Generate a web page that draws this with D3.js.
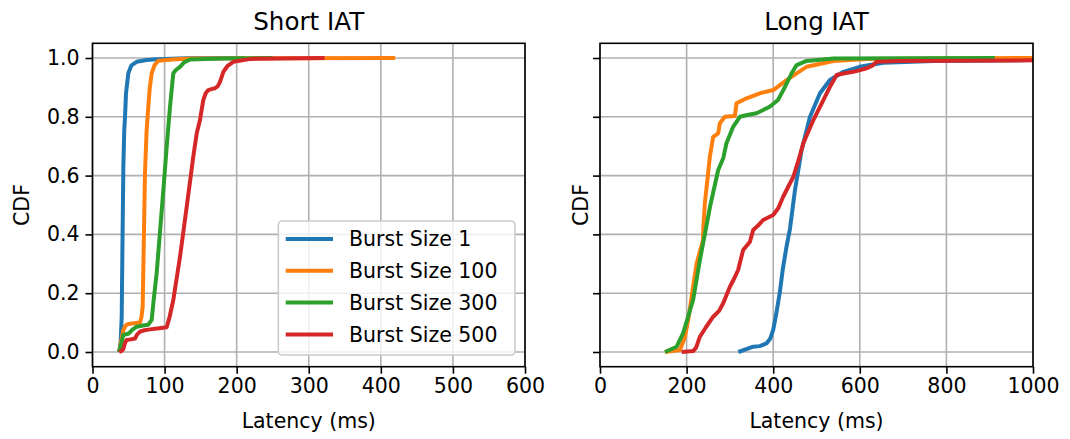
<!DOCTYPE html>
<html>
<head>
<meta charset="utf-8">
<script src="https://cdn.jsdelivr.net/npm/d3@7"></script>
<style>
  html, body { margin: 0; padding: 0; background: #fff; }
  svg { display: block; font-family: "DejaVu Sans", sans-serif; }
</style>
</head>
<body>
<svg id="chart" width="1070" height="439"></svg>
<script>
// ---------------- DATA ----------------
const seriesNames = ["Burst Size 1", "Burst Size 100", "Burst Size 300", "Burst Size 500"];
const seriesColors = ["#1f77b4", "#ff7f0e", "#2ca02c", "#d62728"];
const panelTitles = ["Short IAT", "Long IAT"];
const shortTicks = [0, 100, 200, 300, 400, 500, 600];
const longTicks = [0, 200, 400, 600, 800, 1000];
const cdfTicks = [0.0, 0.2, 0.4, 0.6, 0.8, 1.0];

// Short IAT: [latency ms, CDF]
const shortBurst1 = [[37,0],[39,0.03],[40.5,0.12],[41.5,0.35],[42.8,0.63],[44,0.75],[45.1,0.80],[46.5,0.88],[49.7,0.948],[54,0.975],[61.3,0.987],[75,0.993],[89,0.996],[130,0.999],[211,1.0]];
const shortBurst100 = [[37,0],[40,0.04],[42.8,0.075],[46,0.09],[49.7,0.095],[58,0.098],[65.9,0.10],[68,0.12],[69.6,0.154],[71,0.35],[72.8,0.608],[75,0.75],[77.4,0.834],[79.5,0.9],[82.1,0.948],[86,0.975],[91.3,0.991],[110,0.995],[137,0.998],[250,0.999],[420,1.0]];
const shortBurst300 = [[37,0],[40,0.03],[42.8,0.058],[50.5,0.063],[55,0.075],[61.3,0.086],[70,0.09],[77.4,0.093],[82.1,0.109],[85,0.18],[89,0.268],[98.3,0.551],[103,0.7],[107.5,0.834],[112.1,0.948],[116,0.96],[121.4,0.97],[127,0.985],[135.3,0.995],[180,0.998],[250,1.0]];
const shortBurst500 = [[37,0],[40,0.003],[42.8,0.01],[45,0.03],[47.4,0.041],[53,0.043],[59,0.046],[62,0.06],[65.9,0.069],[72,0.074],[79.8,0.077],[90,0.08],[102.9,0.084],[107,0.12],[112.1,0.177],[121.4,0.324],[130.7,0.494],[139.8,0.664],[144.6,0.744],[149.1,0.789],[153.7,0.857],[157,0.88],[160.7,0.891],[166,0.895],[170,0.897],[174,0.905],[176.9,0.919],[181.5,0.953],[187,0.972],[195.3,0.987],[220,0.997],[322,1.0]];

// Long IAT: [latency ms, CDF]
const longBurst1 = [[319.5,0],[354,0.018],[369,0.02],[384.4,0.029],[393,0.045],[400,0.075],[407,0.13],[415,0.2],[422,0.28],[430.7,0.358],[438.8,0.42],[450.3,0.551],[465.7,0.687],[485,0.80],[508,0.88],[531,0.925],[562,0.953],[600,0.97],[654,0.984],[770,0.99],[1000,0.993]];
const longBurst100 = [[150,0],[184.6,0.007],[196,0.05],[203.7,0.109],[215,0.222],[223,0.3],[238,0.381],[238.4,0.415],[242.2,0.506],[253.7,0.664],[261.4,0.732],[273,0.744],[276.8,0.778],[288.4,0.80],[311.4,0.803],[315.3,0.846],[338.4,0.863],[369,0.88],[400,0.891],[431,0.925],[454,0.948],[477,0.97],[539,0.99],[616,0.997],[1000,1.0]];
const longBurst300 = [[150,0],[177,0.018],[192,0.064],[215,0.177],[230.7,0.313],[246,0.43],[254,0.494],[273,0.619],[284.8,0.66],[292,0.71],[307.5,0.766],[323,0.80],[340,0.806],[361.5,0.812],[392,0.834],[411,0.857],[423,0.89],[442.6,0.948],[454.2,0.976],[477,0.99],[539,0.998],[912,1.0]];
const longBurst500 = [[188.6,0],[215,0.003],[222,0.015],[230.7,0.052],[245,0.085],[261.4,0.12],[275,0.14],[284.5,0.166],[300,0.222],[310,0.25],[319,0.279],[330.6,0.347],[346,0.374],[353.8,0.415],[365,0.43],[376.7,0.449],[400,0.466],[412,0.49],[423,0.528],[446.5,0.596],[458,0.65],[469.6,0.71],[492.7,0.789],[515.8,0.857],[531,0.902],[546.6,0.942],[565,0.948],[585,0.953],[616,0.965],[630,0.975],[639,0.987],[693,0.99],[1000,0.992]];

const shortSeries = [shortBurst1, shortBurst100, shortBurst300, shortBurst500];
const longSeries = [longBurst1, longBurst100, longBurst300, longBurst500];

// ---------------- LAYOUT ----------------
const svg = d3.select("#chart");
const plotTop = 43.3, plotBottom = 366.7;
const fontSize = 20.5;

const panels = [
  { left: 92.5, right: 525, xmax: 600, ticks: shortTicks, data: shortSeries, title: panelTitles[0], showY: true, ylabelX: 29.3, legend: true },
  { left: 600, right: 1033, xmax: 1000, ticks: longTicks, data: longSeries, title: panelTitles[1], showY: false, ylabelX: 587.5, legend: false }
];

panels.forEach((p, pi) => {
  const x = d3.scaleLinear().domain([0, p.xmax]).range([p.left, p.right]);
  const y = d3.scaleLinear().domain([-0.05, 1.05]).range([plotBottom, plotTop]);
  const g = svg.append("g");

  const clipId = "clip" + pi;
  svg.append("defs").append("clipPath").attr("id", clipId)
    .append("rect").attr("x", p.left).attr("y", plotTop)
    .attr("width", p.right - p.left).attr("height", plotBottom - plotTop);

  // grid
  const grid = g.append("g");
  grid.selectAll("line.gx").data(p.ticks).join("line")
    .attr("class", "gx")
    .attr("x1", d => x(d)).attr("x2", d => x(d))
    .attr("y1", plotTop).attr("y2", plotBottom)
    .attr("stroke", "#b0b0b0").attr("stroke-width", 1.6);
  grid.selectAll("line.gy").data(cdfTicks).join("line")
    .attr("class", "gy")
    .attr("x1", p.left).attr("x2", p.right)
    .attr("y1", d => y(d)).attr("y2", d => y(d))
    .attr("stroke", "#b0b0b0").attr("stroke-width", 1.6);

  // lines
  const line = d3.line().x(d => x(d[0])).y(d => y(d[1]));
  const lg = g.append("g").attr("clip-path", `url(#${clipId})`);
  p.data.forEach((s, i) => {
    lg.append("path").datum(s)
      .attr("d", line)
      .attr("fill", "none")
      .attr("stroke", seriesColors[i])
      .attr("stroke-width", 4)
      .attr("stroke-linejoin", "round")
      .attr("stroke-linecap", "butt");
  });

  // axes
  const xAxis = d3.axisBottom(x).tickValues(p.ticks).tickSize(7).tickPadding(5).tickFormat(d3.format("d"));
  const xg = g.append("g").attr("transform", `translate(0,${plotBottom})`).call(xAxis);
  const yAxis = d3.axisLeft(y).tickValues(cdfTicks).tickSize(7).tickPadding(6)
    .tickFormat(p.showY ? d3.format(".1f") : () => "");
  const yg = g.append("g").attr("transform", `translate(${p.left},0)`).call(yAxis);
  [xg, yg].forEach(a => {
    a.select(".domain").remove();
    a.selectAll(".tick line").attr("stroke", "#000").attr("stroke-width", 1.6);
    a.selectAll(".tick text").attr("fill", "#000").style("font-size", fontSize + "px")
      .style("font-family", "DejaVu Sans, sans-serif");
  });

  // frame
  g.append("rect").attr("x", p.left).attr("y", plotTop)
    .attr("width", p.right - p.left).attr("height", plotBottom - plotTop)
    .attr("fill", "none").attr("stroke", "#000").attr("stroke-width", 1.6);

  // title
  g.append("text").attr("x", (p.left + p.right) / 2).attr("y", 30)
    .attr("text-anchor", "middle").style("font-size", "24.6px").text(p.title);
  // x label
  g.append("text").attr("x", (p.left + p.right) / 2).attr("y", 428)
    .attr("text-anchor", "middle").style("font-size", fontSize + "px").text("Latency (ms)");
  // y label
  g.append("text").attr("transform", `translate(${p.ylabelX},${(plotTop + plotBottom) / 2}) rotate(-90)`)
    .attr("text-anchor", "middle").style("font-size", fontSize + "px").text("CDF");

  // legend
  if (p.legend) {
    const lgd = g.append("g");
    lgd.append("rect").attr("x", 278.3).attr("y", 221).attr("width", 236.7).attr("height", 134)
      .attr("rx", 4).attr("fill", "#fff").attr("fill-opacity", 0.8)
      .attr("stroke", "#cccccc").attr("stroke-width", 1.6);
    seriesNames.forEach((name, i) => {
      const yy = 239 + i * 31.8;
      lgd.append("line").attr("x1", 285.7).attr("x2", 333).attr("y1", yy).attr("y2", yy)
        .attr("stroke", seriesColors[i]).attr("stroke-width", 4);
      lgd.append("text").attr("x", 349).attr("y", yy).attr("dy", "0.36em")
        .style("font-size", fontSize + "px").text(name);
    });
  }
});
</script>
</body>
</html>
